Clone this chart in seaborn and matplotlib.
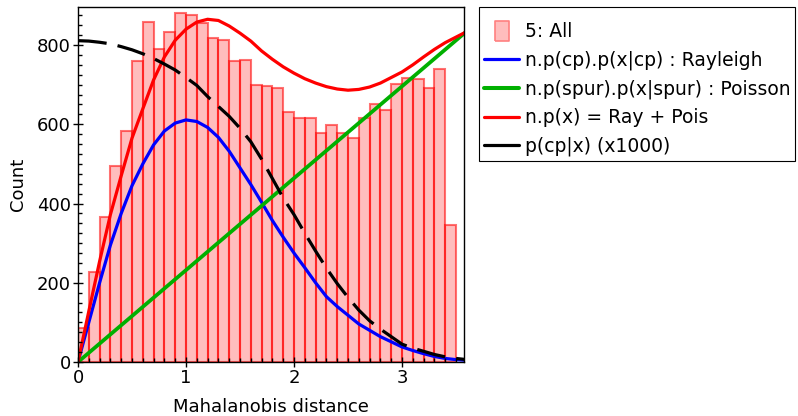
import numpy as np
import pandas as pd
import matplotlib
matplotlib.use("Agg")
import matplotlib.pyplot as plt
from matplotlib.lines import Line2D
from matplotlib.ticker import MultipleLocator
import seaborn as sns

# ---- histogram: counts per 0.1-wide bin, 0 .. 3.5 ----
bin_width = 0.1
counts = [86, 228, 367, 495, 583, 760, 859, 790, 832, 882,
          876, 855, 817, 813, 760, 762, 699, 697, 691, 632,
          617, 617, 579, 598, 579, 565, 617, 651, 636, 701,
          716, 714, 691, 740, 347]

curve_x = np.round(np.arange(37) * 0.1, 1)
rayleigh = [0, 100, 200, 295, 375, 445, 500, 548, 583, 603,
            611, 607, 592, 567, 532, 490, 448, 403, 357, 315,
            275, 238, 200, 165, 140, 118, 96, 80, 64, 51,
            38, 29, 21, 14, 9, 6, 4]
total = [0, 128, 254, 372, 470, 565, 639, 712, 770, 812,
         840, 858, 865, 862, 848, 830, 810, 785, 764, 745,
         729, 715, 704, 695, 689, 686, 688, 694, 704, 718,
         732, 750, 770, 789, 806, 820, 834]
posterior = [811, 810, 807, 803, 796, 788, 778, 766, 752, 737,
             718, 698, 670, 645, 620, 590, 556, 512, 463, 414,
             372, 325, 280, 237, 198, 163, 131, 104, 83, 64,
             45, 35, 27, 19, 13, 9, 6]
poisson_x = [0.0, 3.6]
poisson = [0, 835]

labels = ["5: All",
          "n.p(cp).p(x|cp) : Rayleigh",
          "n.p(spur).p(x|spur) : Poisson",
          "n.p(x) = Ray + Pois",
          "p(cp|x) (x1000)"]

sns.set_style("ticks")
plt.rcParams["font.family"] = ["DejaVu Sans"]
plt.rcParams["font.size"] = 13
plt.rcParams["text.color"] = "black"
plt.rcParams["axes.labelcolor"] = "black"

fig = plt.figure(figsize=(7.98, 4.16), dpi=100)
ax = fig.add_axes([78 / 798, 1 - 362 / 416, (464 - 78) / 798, (362 - 7) / 416])

edges = [round(i * bin_width, 2) for i in range(len(counts) + 1)]
centers = [e + bin_width / 2 for e in edges[:-1]]
hist_df = pd.DataFrame({"x": centers, "n": counts})

bar_face = (1.0, 0.0, 0.0, 0.26)
bar_edge = (1.0, 0.0, 0.0, 0.55)
sns.histplot(data=hist_df, x="x", weights="n", bins=edges, ax=ax,
             facecolor=bar_face, edgecolor=bar_edge, linewidth=1.5)

lw = 2.3
sns.lineplot(x=curve_x, y=rayleigh, color="#0000ff", lw=lw, ax=ax)
sns.lineplot(x=poisson_x, y=poisson, color="#00b000", lw=lw + 0.4, ax=ax)
sns.lineplot(x=curve_x, y=total, color="#ff0000", lw=lw, ax=ax)
sns.lineplot(x=curve_x, y=posterior, color="black", lw=lw,
             linestyle=(0, (9, 3.5)), ax=ax)

ax.set_xlim(0, 3.574)
ax.set_ylim(0, 896)
ax.set_xlabel("Mahalanobis distance", labelpad=8)
ax.set_ylabel("Count", labelpad=7)

# ticks drawn on top of the bars
ax.set_axisbelow(False)
ax.xaxis.set_major_locator(MultipleLocator(1))
ax.xaxis.set_minor_locator(MultipleLocator(0.1))
ax.yaxis.set_major_locator(MultipleLocator(200))
ax.yaxis.set_minor_locator(MultipleLocator(25))
ax.tick_params(which="major", direction="inout", length=6.5, width=1,
               pad=2, labelsize=13, colors="black")
ax.tick_params(which="minor", direction="in", length=3, width=1,
               color="black")
ax.tick_params(top=False, right=False, which="both")
for s in ax.spines.values():
    s.set_visible(True)
    s.set_color("black")
    s.set_linewidth(1.0)

# legend outside, to the right
rect = [(-0.35, -0.5), (0.35, -0.5), (0.35, 0.5), (-0.35, 0.5), (-0.35, -0.5)]
handles = [
    Line2D([], [], linestyle="none", marker=rect, markersize=15,
           markerfacecolor=(1.0, 0.74, 0.74), markeredgecolor=(1.0, 0.5, 0.5),
           markeredgewidth=1.2),
    Line2D([], [], color="#0000ff", lw=lw),
    Line2D([], [], color="#00b000", lw=lw + 0.6),
    Line2D([], [], color="#ff0000", lw=lw),
    Line2D([], [], color="black", lw=lw),
]
leg = fig.legend(handles, labels, loc="upper left",
                 bbox_to_anchor=(479 / 798, 1 - 7 / 416), borderaxespad=0,
                 fontsize=13.5, handlelength=1.9, handletextpad=0.3,
                 borderpad=0.25, labelspacing=0.5, frameon=True,
                 fancybox=False, framealpha=1,
                 title=" ", title_fontsize=1)
leg.get_frame().set_edgecolor("black")
leg.get_frame().set_linewidth(0.8)

fig.savefig("out.png", dpi=100)
